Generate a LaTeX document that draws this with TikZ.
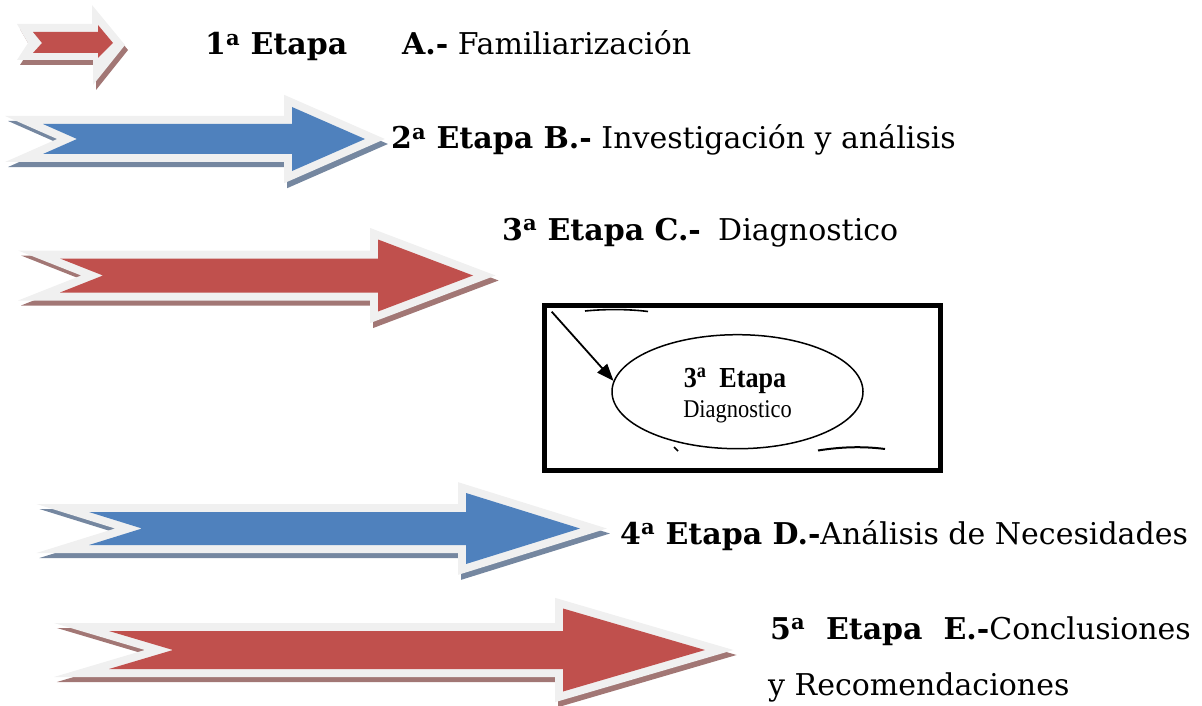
\documentclass[tikz,border=0pt]{standalone}
\usepackage{fontspec}
\setmainfont{DejaVu Serif}
\newfontfamily\timesfont{Liberation Serif}
\usetikzlibrary{arrows.meta,shapes.geometric}
\definecolor{arred}{HTML}{C0504D}
\definecolor{arblue}{HTML}{4F81BD}
\definecolor{glowgrey}{HTML}{F0F0F0}
\definecolor{shred}{HTML}{A27775}
\definecolor{shblue}{HTML}{7587A0}
% #1 fill, #2 shadow, #3 x0, #4 notch x, #5 head x, #6 tip x, #7 y centre, #8 shaft half, #9 head half
\newcommand\stagearrow[9]{%
  \begin{scope}[shift={(3,5)}]
    \path[fill=#2,draw=#2,glowline] ({#3},{#7-#8}) -- ({#5},{#7-#8}) -- ({#5},{#7-#9}) -- ({#6},{#7}) -- ({#5},{#7+#9}) -- ({#5},{#7+#8}) -- ({#3},{#7+#8}) -- ({#4},{#7}) -- cycle;
  \end{scope}
  \path[draw=glowgrey,glowline] ({#3},{#7-#8}) -- ({#5},{#7-#8}) -- ({#5},{#7-#9}) -- ({#6},{#7}) -- ({#5},{#7+#9}) -- ({#5},{#7+#8}) -- ({#3},{#7+#8}) -- ({#4},{#7}) -- cycle;
  \path[fill=#1] ({#3},{#7-#8}) -- ({#5},{#7-#8}) -- ({#5},{#7-#9}) -- ({#6},{#7}) -- ({#5},{#7+#9}) -- ({#5},{#7+#8}) -- ({#3},{#7+#8}) -- ({#4},{#7}) -- cycle;
}
\begin{document}
\begin{tikzpicture}[x=1pt,y=-1pt,
  glowline/.style={line width=16pt,line join=miter,miter limit=20},
  lbl/.style={anchor=base west,inner sep=0pt,font=\fontsize{30}{36}\selectfont},
  boxtext/.style={anchor=base,inner sep=0pt},
  frag/.style={line width=1.6pt}]
\useasboundingbox (0,0) rectangle (1202,706);

% arrow 1 (small)
\begin{scope}[shift={(3,5)}]
  \fill[shred] (17,24) -- (92,24) -- (92,5) -- (125,45) -- (93,85) -- (93,60) -- (17,60) -- (28,43) -- cycle;
\end{scope}
\fill[glowgrey] (17,24) -- (92,24) -- (92,5) -- (125,45) -- (93,85) -- (93,60) -- (17,60) -- (28,43) -- cycle;
\fill[arred] (33,32) -- (98,32) -- (98,25) -- (113,43) -- (98,58) -- (98,53) -- (33,53) -- (42,43) -- cycle;

\stagearrow{arblue}{shblue}{43}{77}{292}{365}{139}{15}{32}
\stagearrow{arred}{shred}{60}{103}{378}{473}{275.5}{17}{36}
\stagearrow{arblue}{shblue}{89}{142}{466}{580}{528.5}{16.5}{35.5}
\stagearrow{arred}{shred}{109}{173}{563}{705}{650}{19}{41.5}

% labels
\node[lbl] (t1a) at (205,55) {\textbf{1\textsuperscript{a} Etapa}};
\node[lbl] (t1b) at (402,55) {\textbf{A.-} Familiarización};
\node[lbl] (t2) at (391,149) {\textbf{2\textsuperscript{a} Etapa B.-} Investigación y análisis};
\node[lbl] (t3a) at (502,240) {\textbf{3\textsuperscript{a} Etapa C.-}};
\node[lbl] (t3b) at (718,240) {Diagnostico};
\node[lbl] (t4) at (620,544) {\textbf{4\textsuperscript{a} Etapa D.-}Análisis de Necesidades};
\node[lbl] (t5a) at (770,639) {\textbf{5\textsuperscript{a}\ \ Etapa\ \ E.-}Conclusiones};
\node[lbl] (t5b) at (768,695) {y Recomendaciones};

% framed picture
\node[draw,line width=5pt,minimum width=396.5pt,minimum height=165pt,inner sep=0pt] (frame) at (742.25,388) {};
\node[ellipse,draw,line width=1.5pt,minimum width=251pt,minimum height=114pt,inner sep=0pt] (ell) at (737.5,391.7) {};
\node[boxtext,font=\timesfont\fontsize{29}{30}\selectfont\bfseries] (et) at (735,387) {\scalebox{0.9}[1]{3\textsuperscript{a}\ \ Etapa}};
\node[boxtext,font=\timesfont\fontsize{25.5}{28}\selectfont] (dg) at (737.5,417.5) {\scalebox{0.88}[1]{Diagnostico}};
\coordinate (astart) at (551.7,311.7);
\draw[line width=1.8pt,-{Triangle[length=17pt,width=13pt]}] (astart) -- (ell.175);
\draw[frag] (585,311) .. controls (605,309) and (628,309) .. (648,311.5);
\draw[frag,line width=2pt] (818,450.5) .. controls (840,447) and (862,446) .. (885,449);
\draw[frag] (674,447) -- (678,451);
\end{tikzpicture}
\end{document}
